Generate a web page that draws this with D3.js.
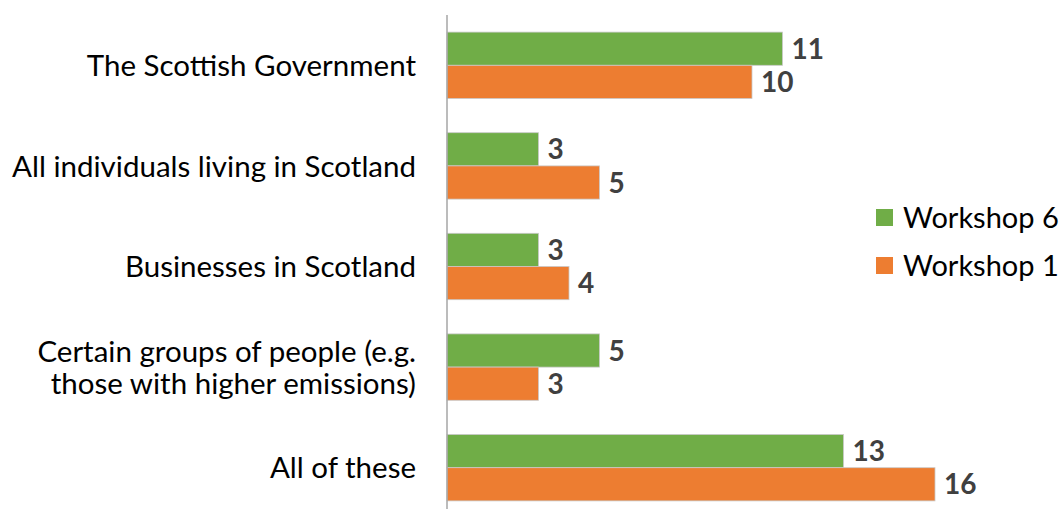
<!DOCTYPE html>
<html>
<head>
<meta charset="utf-8">
<script src="https://cdn.jsdelivr.net/npm/d3@7"></script>
<style>
  body { margin: 0; background: #fff; }
  text { font-family: Lato, "Open Sans", sans-serif; }
</style>
</head>
<body>
<div id="chart"></div>
<script>
// Categories (top to bottom) and series values.
var categories = [
  ["The Scottish Government"],
  ["All individuals living in Scotland"],
  ["Businesses in Scotland"],
  ["Certain groups of people (e.g.", "those with higher emissions)"],
  ["All of these"]
];
var seriesNames = ["Workshop 6", "Workshop 1"];
var workshop6 = [11, 3, 3, 5, 13];
var workshop1 = [10, 5, 4, 3, 16];
var colors = ["#70AD47", "#ED7D31"];

var width = 1062, height = 509;
var axisX = 447;

var svg = d3.select("#chart").append("svg")
    .attr("width", width)
    .attr("height", height);

var xScale = d3.scaleLinear().domain([0, 16]).range([axisX, axisX + 488]);
var yScale = d3.scaleBand().domain(d3.range(categories.length)).range([15, 518]).paddingInner(0).paddingOuter(0);
var inner = d3.scaleBand().domain([0, 1]).range([0, yScale.bandwidth()]).paddingInner(0).paddingOuter(0.515);

var rows = categories.map(function(c, i) {
  return { idx: i, label: c, vals: [workshop6[i], workshop1[i]] };
});

var group = svg.append("g").selectAll(".group")
    .data(rows)
    .enter().append("g")
    .attr("class", "group")
    .attr("transform", function(d) { return "translate(0," + yScale(d.idx) + ")"; });

group.selectAll("rect")
    .data(function(d) { return d.vals.map(function(v, s) { return { s: s, v: v }; }); })
    .enter().append("rect")
    .attr("x", xScale(0))
    .attr("y", function(d) { return inner(d.s); })
    .attr("width", function(d) { return xScale(d.v) - xScale(0); })
    .attr("height", inner.bandwidth())
    .attr("fill", function(d) { return colors[d.s]; })
    .attr("stroke", "#c9c9c9")
    .attr("stroke-width", 0.8);

group.selectAll(".val")
    .data(function(d) { return d.vals.map(function(v, s) { return { s: s, v: v }; }); })
    .enter().append("text")
    .attr("class", "val")
    .attr("x", function(d) { return xScale(d.v) + 9; })
    .attr("y", function(d) { return inner(d.s) + inner.bandwidth() / 2; })
    .attr("dy", "0.36em")
    .attr("fill", "#404040")
    .attr("font-weight", "bold")
    .attr("font-size", 28)
    .text(function(d) { return d.v; });

// Category labels
var labels = svg.append("g").selectAll(".cat")
    .data(rows)
    .enter().append("text")
    .attr("class", "cat")
    .attr("text-anchor", "end")
    .attr("font-size", 29.5)
    .attr("fill", "#000");

labels.each(function(d) {
  var t = d3.select(this);
  var n = d.label.length;
  var cy = yScale(d.idx) + yScale.bandwidth() / 2;
  d.label.forEach(function(line, k) {
    t.append("tspan")
      .attr("x", 416)
      .attr("y", cy + (k - (n - 1) / 2) * 32)
      .attr("dy", "0.36em")
      .text(line);
  });
});

// Vertical axis line
svg.append("line")
    .attr("x1", axisX).attr("x2", axisX)
    .attr("y1", 15).attr("y2", 509)
    .attr("stroke", "#a6a6a6")
    .attr("stroke-width", 1.5);

// Legend
var legend = svg.append("g").selectAll(".leg")
    .data(seriesNames)
    .enter().append("g")
    .attr("transform", function(d, i) { return "translate(876," + (209 + i * 48) + ")"; });

legend.append("rect")
    .attr("width", 17).attr("height", 17)
    .attr("fill", function(d, i) { return colors[i]; });

legend.append("text")
    .attr("x", 27)
    .attr("y", 8.5)
    .attr("dy", "0.36em")
    .attr("font-size", 29)
    .attr("fill", "#000")
    .text(function(d) { return d; });
</script>
</body>
</html>
